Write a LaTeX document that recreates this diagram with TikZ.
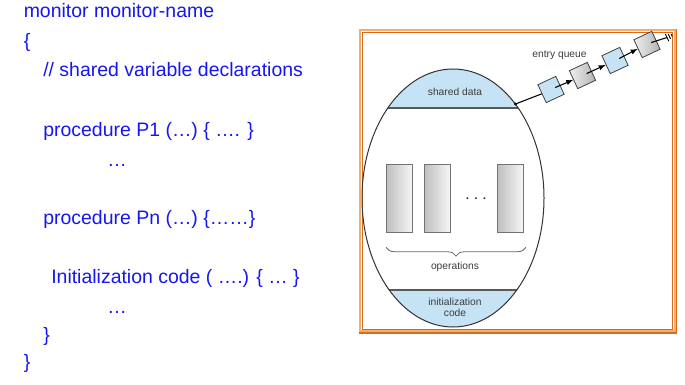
\documentclass[tikz,border=0pt]{standalone}
\usepackage{fontspec}
\setmainfont{Liberation Sans}
\usetikzlibrary{calc,decorations.pathreplacing}

\definecolor{codeblue}{RGB}{22,22,240}
\definecolor{bandblue}{RGB}{197,227,244}
\definecolor{framelight}{RGB}{242,172,112}
\definecolor{framedark}{RGB}{212,108,28}
\definecolor{labelgray}{RGB}{60,60,60}

\tikzset{
  codeline/.style={anchor=base west, inner sep=0pt, text=codeblue, font=\fontsize{14.6}{17}\selectfont},
  oprect/.style={draw=black!55, line width=0.9pt, minimum width=19.5pt, minimum height=51pt, inner sep=0pt, left color=gray!50, right color=gray!6},
  qbox/.style={draw=black!75, line width=0.6pt, minimum size=14.8pt, inner sep=0pt, rotate=25},
  qblue/.style={qbox, fill=bandblue},
  qgray/.style={qbox, left color=gray!12, right color=gray!60},
  lbl/.style={text=labelgray, font=\fontsize{7.7}{8.6}\selectfont, inner sep=0pt},
  sepline/.style={line width=1.3pt, black!65},
  qarrow/.style={-latex, line width=0.8pt},
}

\begin{document}
\begin{tikzpicture}[x=0.75pt,y=-0.75pt]
  \useasboundingbox (0,0) rectangle (685,385);

  % monitor syntax on the left
  \node[codeline] (mon) at (23.5,18) {monitor monitor-name};
  \node[codeline] (lbrace) at (23.5,48) {\{};
  \node[codeline] (decl) at (43,77) {// shared variable declarations};
  \node[codeline] (p1) at (43,136) {procedure P1 (…) \{ …. \}};
  \node[codeline] (dots1) at (107,166) {…};
  \node[codeline] (pn) at (43,224) {procedure Pn (…) \{……\}};
  \node[codeline] (init) at (51,283) {Initialization code ( ….) \{ … \}};
  \node[codeline] (dots2) at (107,313) {…};
  \node[codeline] (rbin) at (43,341) {\}};
  \node[codeline] (rbout) at (23.5,368) {\}};

  % orange frame round the figure
  \draw[framelight, line width=1.9pt] (360.2,30.2) rectangle (674.8,331.2);
  \draw[framedark, line width=0.8pt] (362.8,32.8) rectangle (672.8,329.6);
  \draw[framedark, line width=1.1pt] (676.3,29.5) -- (676.3,333) -- (359,333);

  % monitor body
  \coordinate (mc) at (453,198);
  \begin{scope}
    \clip (mc) ellipse [x radius=91, y radius=129];
    \fill[bandblue] (360,60) rectangle (546,108.3);
    \fill[bandblue] (360,290) rectangle (546,330);
  \end{scope}
  \draw[sepline] (387.6,108.3) -- (518.4,108.3);
  \draw[sepline] (389.2,290) -- (516.8,290);
  \draw[line width=0.75pt, black!80] (mc) ellipse [x radius=91, y radius=129];

  \node[lbl] (shared) at (455,92) {shared data};
  \node[lbl, align=center] (initcode) at (455,307.5) {initialization\\code};

  % operations
  \node[oprect] (op1) at (399.7,198.8) {};
  \node[oprect] (op2) at (437.5,198.8) {};
  \node[oprect] (opn) at (510.8,198.8) {};
  \node[inner sep=0pt, text=black!80, font=\fontsize{14}{14}\selectfont] (opdots) at (476,199) {$\cdots$};
  \draw[decorate, decoration={brace, amplitude=6.5pt}, black!60, line width=0.6pt]
    ($(opn.south east)+(1.5,14)$) -- ($(op1.south west)+(0,14)$);
  \node[lbl] (ops) at (455,267) {operations};

  % entry queue
  \node[lbl] (eq) at (559.5,55) {entry queue};
  \foreach \n/\x/\y/\s in {1/551/89.5/qblue, 2/582.5/75.5/qgray, 3/615/60.5/qblue, 4/647/44.5/qgray}
    \node[\s] (q\n) at (\x,\y) {};

  \coordinate (qhead) at (515.5,104);
  \fill (qhead) circle (1.7);
  \draw[line width=0.8pt] (qhead) -- (q1.west);
  \foreach \a/\b in {1/2,2/3,3/4}
    \draw[qarrow] ($(q\a.center)!0.45!(q\a.east)$) -- (q\b.west);

  % queue tail
  \coordinate (qtail) at (667,37.5);
  \draw[line width=0.8pt] ($(q4.center)!0.45!(q4.east)$) -- (qtail);
  \begin{scope}[shift={(qtail)}, rotate=25]
    \draw[line width=0.7pt] (0,-4) -- (0,4) (2.6,-2.7) -- (2.6,2.7) (5.2,-1.4) -- (5.2,1.4);
  \end{scope}
\end{tikzpicture}
\end{document}
